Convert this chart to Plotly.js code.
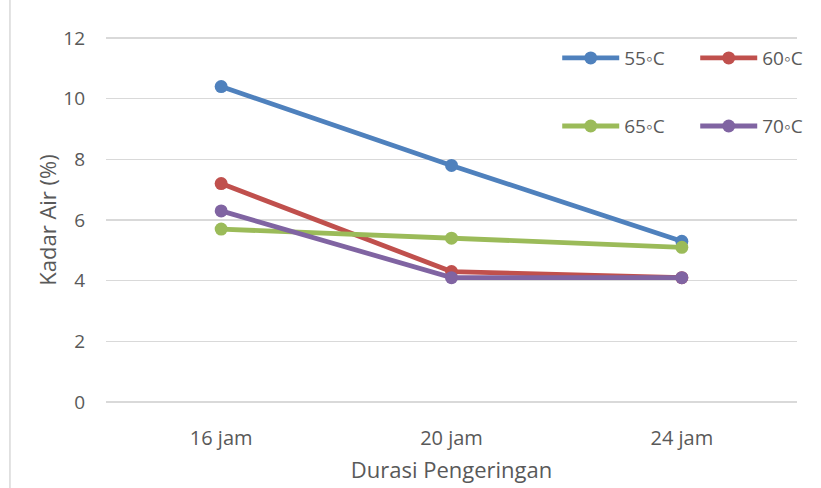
<!DOCTYPE html>
<html>
<head>
<meta charset="utf-8">
<script src="https://cdn.plot.ly/plotly-3.0.1.min.js"></script>
<style>html,body{margin:0;padding:0;background:#fff;}#chart{width:821px;height:488px;}</style>
</head>
<body>
<div id="chart"></div>
<script>
const categories = ["16 jam", "20 jam", "24 jam"];
const seriesNames = ["55◦C", "60◦C", "65◦C", "70◦C"];
const s55 = [10.4, 7.8, 5.3];
const s60 = [7.2, 4.3, 4.1];
const s65 = [5.7, 5.4, 5.1];
const s70 = [6.3, 4.1, 4.1];
const yTicks = [0, 2, 4, 6, 8, 10, 12];

const colors = ["#4F81BD", "#C0504D", "#9BBB59", "#8064A2"];
const values = [s55, s60, s65, s70];
const legends = ["legend", "legend", "legend2", "legend2"];

const traces = values.map((v, i) => ({
  x: categories, y: v, type: "scatter", mode: "lines+markers",
  name: seriesNames[i], legend: legends[i],
  line: {color: colors[i], width: 4.8},
  marker: {color: colors[i], size: 13}
}));

const txt = "#595959";
const legendBase = {
  orientation: "h", xref: "paper", yref: "paper",
  x: 0.653, xanchor: "left", yanchor: "middle",
  bgcolor: "rgba(0,0,0,0)", font: {size: 19, color: txt},
  itemwidth: 57, entrywidth: 66, traceorder: "normal"
};
const layout = {
  width: 821, height: 488,
  margin: {l: 106, r: 24, t: 36, b: 84, autoexpand: false},
  paper_bgcolor: "#fff", plot_bgcolor: "#fff",
  font: {family: "Open Sans, Noto Sans, sans-serif", size: 16, color: txt},
  showlegend: true,
  xaxis: {
    type: "category", range: [-0.5, 2.5],
    showgrid: false, zeroline: false, showline: false,
    ticks: "", tickfont: {size: 20, color: txt}, ticklabelstandoff: 20,
    title: {text: "Durasi Pengeringan", font: {size: 22, color: txt}, standoff: 12}
  },
  yaxis: {
    range: [-0.066, 12.066], tickvals: yTicks, ticktext: yTicks.map(String),
    showgrid: true, gridcolor: "#D9D9D9", gridwidth: 1.3,
    zeroline: false, showline: false, ticks: "",
    tickfont: {size: 19, color: txt}, ticklabelstandoff: 20,
    title: {text: "Kadar Air (%)", font: {size: 22, color: txt}, standoff: 0}
  },
  legend: Object.assign({}, legendBase, {y: 0.94}),
  legend2: Object.assign({}, legendBase, {y: 0.755}),
  shapes: [{
    type: "line", xref: "paper", yref: "paper",
    x0: -0.139, x1: -0.139, y0: -0.3, y1: 1.2,
    line: {color: "#D9D9D9", width: 1.5}
  }]
};

Plotly.newPlot("chart", traces, layout, {displayModeBar: false, staticPlot: true});
</script>
</body>
</html>
